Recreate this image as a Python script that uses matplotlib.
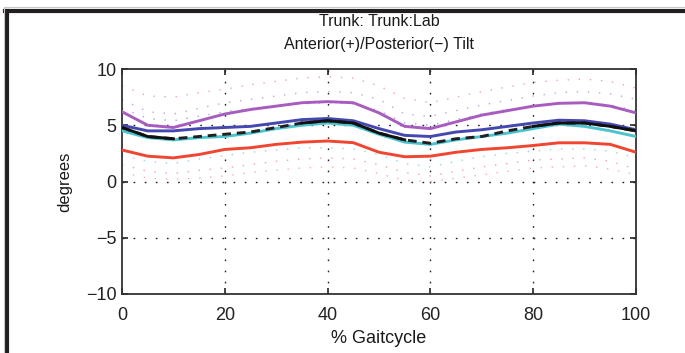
import matplotlib
matplotlib.use("Agg")
import matplotlib.pyplot as plt
from matplotlib.lines import Line2D
import numpy as np

plt.rcParams['font.family'] = ['Liberation Sans', 'DejaVu Sans']

gait = [0, 5, 10, 15, 20, 25, 30, 35, 40, 45, 50, 55, 60, 65, 70, 75, 80, 85, 90, 95, 100]

purple = [6.2, 5.0, 4.8, 5.4, 6.0, 6.4, 6.7, 7.0, 7.1, 7.0, 6.1, 4.9, 4.7, 5.3, 5.9, 6.3, 6.7, 6.95, 7.0, 6.7, 6.1]
blue   = [5.0, 4.5, 4.5, 4.7, 4.8, 4.9, 5.2, 5.5, 5.6, 5.4, 4.7, 4.1, 4.0, 4.4, 4.6, 4.9, 5.2, 5.45, 5.4, 5.1, 4.6]
black  = [4.8, 4.0, 3.8, 4.0, 4.2, 4.4, 4.8, 5.2, 5.4, 5.2, 4.3, 3.7, 3.4, 3.8, 4.0, 4.5, 4.9, 5.2, 5.2, 4.9, 4.5]
cyan   = [4.5, 3.9, 3.7, 3.9, 4.0, 4.3, 4.7, 5.0, 5.2, 5.0, 4.2, 3.5, 3.3, 3.7, 4.0, 4.3, 4.7, 5.1, 4.9, 4.5, 4.0]
red    = [2.8, 2.25, 2.1, 2.4, 2.85, 3.0, 3.3, 3.5, 3.6, 3.45, 2.6, 2.2, 2.25, 2.6, 2.85, 3.0, 3.2, 3.44, 3.44, 3.3, 2.6]

# faint individual trials (dotted)
trial_pink_top  = [8.5, 7.6, 7.5, 7.9, 8.2, 8.6, 8.9, 9.2, 9.3, 9.2, 8.5, 7.4, 7.0, 7.5, 8.0, 8.4, 8.8, 9.0, 9.1, 8.9, 8.3]
trial_purple    = [7.3, 6.2, 6.0, 6.5, 7.0, 7.3, 7.6, 7.9, 8.0, 7.9, 7.3, 6.0, 5.8, 6.3, 6.8, 7.2, 7.6, 7.9, 8.0, 7.8, 7.3]
trial_blue      = [6.5, 5.6, 5.4, 5.8, 6.2, 6.5, 6.7, 6.9, 7.0, 6.9, 6.3, 5.2, 5.0, 5.5, 6.0, 6.4, 6.7, 6.9, 7.0, 6.8, 6.3]
trial_ltblue    = [2.3, 1.8, 1.6, 2.0, 2.3, 2.6, 2.8, 3.0, 3.0, 2.9, 2.4, 1.6, 1.3, 1.8, 2.2, 2.5, 2.7, 2.9, 2.9, 2.7, 2.1]
trial_pink_low  = [1.5, 0.9, 0.7, 1.0, 1.2, 1.5, 1.8, 2.0, 2.1, 2.0, 1.5, 0.8, 0.5, 0.9, 1.3, 1.6, 1.9, 2.0, 2.1, 1.8, 1.1]
trial_red_low   = [0.8, 0.3, 0.2, 0.3, 0.5, 0.8, 1.0, 1.2, 1.3, 1.2, 0.7, 0.1, 0.0, 0.3, 0.6, 0.9, 1.2, 1.3, 1.4, 1.1, 0.6]

x_ticks = [0, 20, 40, 60, 80, 100]
y_ticks = [-10, -5, 0, 5, 10]
y_ticklabels = ['\u221210', '\u22125', '0', '5', '10']

W, H = 685, 353
fig = plt.figure(figsize=(W / 100, H / 100), dpi=100)
ax = fig.add_axes([122 / W, 1 - 294 / H, (636 - 122) / W, (294 - 69) / H])

grid_ls = (0, (1.2, 6.8))
for t in x_ticks[1:-1]:
    ax.axvline(t, color='#222222', lw=1.0, ls=grid_ls, zorder=1)
for t in y_ticks[1:-1]:
    ax.axhline(t, color='#222222', lw=1.0, ls=grid_ls, zorder=1)

faint = [(trial_pink_top, '#e8a0c8'), (trial_purple, '#c8a0dc'), (trial_blue, '#9aa8e0'),
         (trial_ltblue, '#9ad0e8'), (trial_pink_low, '#f0a0b0'), (trial_red_low, '#f4b0a8')]
for vals, col in faint:
    ax.plot(gait, vals, color=col, lw=1.0, ls=(0, (1, 7)), zorder=2)

lw = 2.1
ax.plot(gait, purple, color='#a95cc0', lw=lw, zorder=4)
ax.plot(gait, blue, color='#4448b0', lw=lw, zorder=5)
ax.plot(gait, cyan, color='#4cc4d0', lw=lw, zorder=4)
ax.plot(gait, black, color='#202020', lw=lw, ls=(0, (3, 2)), zorder=6)
g = np.array(gait); b = np.array(black)
for lo, hi in [(0, 10), (35, 55), (80, 100)]:
    m = (g >= lo) & (g <= hi)
    ax.plot(g[m], b[m], color='#101010', lw=lw, zorder=6)
ax.plot(gait, red, color='#f04530', lw=lw, zorder=4)

ax.set_xlim(0, 100)
ax.set_ylim(-10, 10)
ax.set_xticks(x_ticks)
ax.set_yticks(y_ticks)
ax.set_yticklabels(y_ticklabels)
ax.tick_params(direction='in', length=4, width=1.2, top=True, right=True,
               labelsize=13, colors='#222222')
ax.tick_params(axis='x', pad=9)
ax.tick_params(axis='y', pad=4)
for s in ax.spines.values():
    s.set_linewidth(1.3)
    s.set_color('#333333')

ax.set_xlabel('% Gaitcycle', fontsize=13, color='#1a1a1a', labelpad=5)
ax.set_ylabel('degrees', fontsize=12, color='#1a1a1a', labelpad=10)

fig.text(379 / W, 1 - 22 / H, 'Trunk: Trunk:Lab', ha='center', va='center', fontsize=11.5, color='#1a1a1a')
fig.text(379 / W, 1 - 45 / H, 'Anterior(+)/Posterior(\u2212) Tilt', ha='center', va='center', fontsize=11.5, color='#1a1a1a')

# outer frame (top and left)
fig.add_artist(Line2D([5 / W, 1], [1 - 11 / H, 1 - 11 / H], color='#231f20', lw=3.0, transform=fig.transFigure))
fig.add_artist(Line2D([7 / W, 7 / W], [0, 1 - 11 / H], color='#231f20', lw=3.0, transform=fig.transFigure))
fig.add_artist(Line2D([4 / W, 1], [1 - 7 / H, 1 - 7 / H], color='#c8c8c8', lw=0.8, transform=fig.transFigure))
fig.add_artist(Line2D([4 / W, 4 / W], [0, 1 - 7 / H], color='#c8c8c8', lw=0.8, transform=fig.transFigure))

fig.savefig('out.png', dpi=100)
